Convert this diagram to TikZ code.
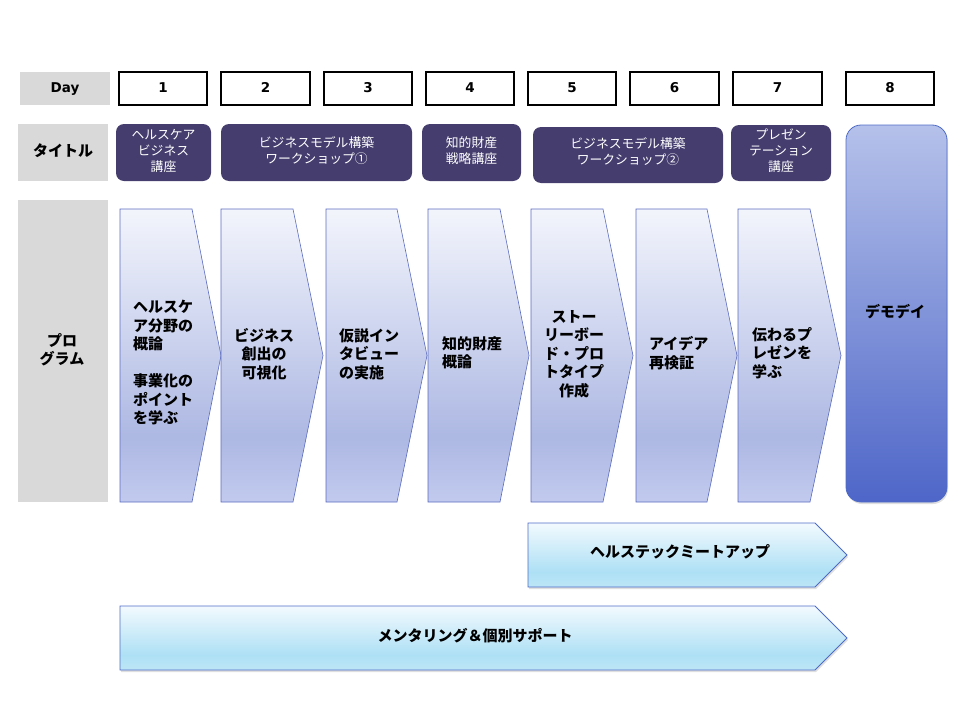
\documentclass[tikz,border=0pt]{standalone}
\usepackage{fontspec}
\setmainfont{DejaVu Sans}
\newfontfamily\jp{Noto Sans CJK JP}
\usetikzlibrary{shadows}
\definecolor{graybg}{HTML}{D9D9D9}
\definecolor{titlebg}{HTML}{453D6E}
\definecolor{chevline}{HTML}{5A6BC0}
\definecolor{pA}{HTML}{F3F5FC}
\definecolor{pB}{HTML}{ADB8E3}
\definecolor{pC}{HTML}{C2CAEE}
\definecolor{dA}{HTML}{B5C1EA}
\definecolor{dB}{HTML}{4E66C8}
\definecolor{cA}{HTML}{F2FAFE}
\definecolor{cB}{HTML}{AEE0F5}
\definecolor{cC}{HTML}{BDE6F7}
\definecolor{bline}{HTML}{4F6BC6}
\pgfdeclareverticalshading{progshade}{100bp}{color(0bp)=(pC); color(25bp)=(pC); color(36bp)=(pB); color(75bp)=(pA); color(100bp)=(pA)}
\pgfdeclareverticalshading{demoshade}{100bp}{color(0bp)=(dB); color(25bp)=(dB); color(75bp)=(dA); color(100bp)=(dA)}
\pgfdeclareverticalshading{cyanshade}{100bp}{color(0bp)=(cC); color(25bp)=(cC); color(37bp)=(cB); color(75bp)=(cA); color(100bp)=(cA)}
\tikzset{
  graylabel/.style={fill=graybg, draw=none},
  daybox/.style={draw=black, line width=1.6pt, fill=white},
  titlebox/.style={fill=titlebg, rounded corners=8pt},
  chev/.style={shading=progshade, draw=chevline, line width=0.6pt},
  longchev/.style={shading=cyanshade, draw=bline, line width=0.9pt, drop shadow={opacity=0.25, shadow xshift=1pt, shadow yshift=-2pt}},
  lbl/.style={font=\jp\bfseries\fontsize{15}{18}\selectfont, inner sep=0pt, align=center},
  daytxt/.style={font=\bfseries\fontsize{13.5}{15}\selectfont, inner sep=0pt, anchor=base},
  ttxt/.style={font=\jp\fontsize{12.8}{16}\selectfont, text=white, inner sep=0pt, align=center},
  ptxtl/.style={font=\jp\bfseries\fontsize{15}{18.5}\selectfont, inner sep=0pt, align=left, anchor=west},
  ptxtc/.style={font=\jp\bfseries\fontsize{15}{18.5}\selectfont, inner sep=0pt, align=center},
}
\begin{document}
\begin{tikzpicture}[x=1pt,y=-1pt]
\useasboundingbox (0,0) rectangle (960,720);
% Day row
\fill[graylabel] (20,72) rectangle (110,105);
\node[daytxt] (dayl) at (65,92) {Day};
\foreach \xa/\xb/\n in {119/207/1, 221/310/2, 324/412/3, 426/514/4, 528/616/5, 630/719/6, 733/822/7, 846/934/8}{
  \draw[daybox] (\xa,72) rectangle (\xb,105);
  \node[daytxt] (day\n) at ({(\xa+\xb)/2},92) {\n};
}
% Title row
\fill[graylabel] (18,124) rectangle (108,181);
\node[lbl] (titlel) at (63,151) {タイトル};
\fill[titlebox] (116,124) rectangle (211,181);
\node[ttxt] (t1) at (163.5,151) {ヘルスケア\\ビジネス\\講座};
\fill[titlebox] (221,124) rectangle (412,181);
\node[ttxt] (t2) at (316.5,151) {ビジネスモデル構築\\ワークショップ①};
\fill[titlebox] (422,124) rectangle (521,181);
\node[ttxt] (t3) at (471.5,151) {知的財産\\戦略講座};
\fill[titlebox] (533,127) rectangle (723,183);
\node[ttxt] (t4) at (628,152) {ビジネスモデル構築\\ワークショップ②};
\fill[titlebox] (731,125) rectangle (831,181);
\node[ttxt] (t5) at (781,151) {プレゼン\\テーション\\講座};
% Program row
\fill[graylabel] (18,200) rectangle (108,502);
\node[lbl] (progl) at (62,350) {プロ\\グラム};
\foreach \xl/\xs/\xt in {120/192/221, 221/293/323, 326/397/427, 428/500/529, 531/603/633, 636/707/737, 738/810/841}{
  \path[chev] (\xl,209) -- (\xs,209) -- (\xt,355.5) -- (\xs,502) -- (\xl,502) -- cycle;
}
\node[ptxtl] (p1) at (133,363) {ヘルスケ\\ア分野の\\概論\\[18.5pt]事業化の\\ポイント\\を学ぶ};
\node[ptxtc] (p2) at (264,354) {ビジネス\\創出の\\可視化};
\node[ptxtl] (p3) at (339,354) {仮説イン\\タビュー\\の実施};
\node[ptxtl] (p4) at (442,353) {知的財産\\概論};
\node[ptxtc] (p5) at (574,354) {ストー\\リーボー\\ド・プロ\\トタイプ\\作成};
\node[ptxtl] (p6) at (649,353) {アイデア\\再検証};
\node[ptxtl] (p7) at (752,353) {伝わるプ\\レゼンを\\学ぶ};
% Demo day
\path[shading=demoshade, draw=bline, line width=0.8pt, rounded corners=15pt, drop shadow={opacity=0.25, shadow xshift=1pt, shadow yshift=-2pt}] (846,125) rectangle (947,502);
\node[lbl] (demo) at (895,312) {デモデイ};
% Bottom arrows
\path[longchev] (528,523) -- (815,523) -- (847,555) -- (815,587) -- (528,587) -- cycle;
\node[lbl] (meet) at (680,552) {ヘルステックミートアップ};
\path[longchev] (120,606) -- (815,606) -- (847,638) -- (815,670) -- (120,670) -- cycle;
\node[lbl] (mentor) at (475,636) {メンタリング＆個別サポート};
\end{tikzpicture}
\end{document}
